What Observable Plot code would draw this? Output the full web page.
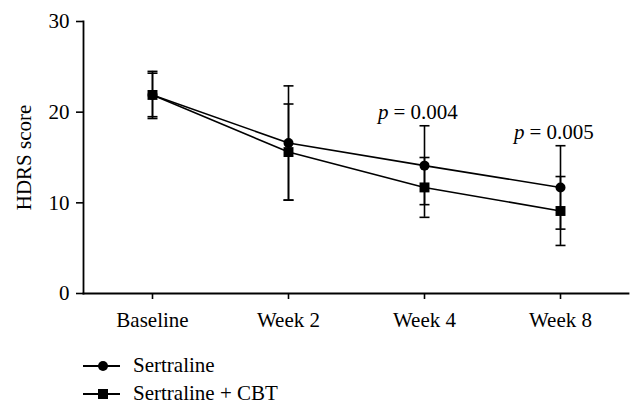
<!DOCTYPE html>
<html>
<head>
<meta charset="utf-8">
<script src="https://cdn.jsdelivr.net/npm/d3@7"></script>
<script src="https://cdn.jsdelivr.net/npm/@observablehq/plot@0.6"></script>
<style>
  html, body { margin: 0; padding: 0; background: #fff; }
  #chart { width: 642px; }
  .legend { font-family: "Liberation Serif", serif; font-size: 21px; color: #000; position: relative; height: 75px; }
  .legend .row { position: absolute; left: 0; display: flex; align-items: center; }
  .legend svg { display: block; }
</style>
</head>
<body>
<div id="chart"></div>
<script>
const weeks = ["Baseline", "Week 2", "Week 4", "Week 8"];
const seriesNames = ["Sertraline", "Sertraline + CBT"];
const sertMean  = [21.9, 16.6, 14.1, 11.7];
const sertUpper = [24.5, 22.9, 18.5, 16.3];
const sertLower = [19.3, 10.3, 9.8, 7.1];
const cbtMean   = [21.9, 15.6, 11.7, 9.1];
const cbtUpper  = [24.3, 20.9, 15.0, 12.9];
const cbtLower  = [19.5, 10.3, 8.4, 5.3];
const yTicks = [0, 10, 20, 30];
const pWeeks = ["Week 4", "Week 8"];
const pValues = ["= 0.004", "= 0.005"];

const rows = [];
weeks.forEach((w, i) => {
  rows.push({week: w, series: seriesNames[0], mean: sertMean[i], lo: sertLower[i], hi: sertUpper[i]});
  rows.push({week: w, series: seriesNames[1], mean: cbtMean[i], lo: cbtLower[i], hi: cbtUpper[i]});
});
const pRows = pWeeks.map((w, i) => ({week: w, y: sertUpper[weeks.indexOf(w)], text: pValues[i]}));

// horizontal cap symbol for error bars
const capSymbol = {draw(ctx) { ctx.moveTo(-5, 0); ctx.lineTo(5, 0); }};

const font = "'Liberation Serif', serif";
const plot = Plot.plot({
  width: 642,
  height: 340,
  marginTop: 21,
  marginBottom: 47,
  marginLeft: 83,
  marginRight: 14,
  style: {fontFamily: font, fontSize: "21px", color: "#000", background: "#fff"},
  x: {type: "point", domain: weeks, padding: 0.5, label: null},
  y: {domain: [0, 30], ticks: yTicks, label: null},
  marks: [
    Plot.axisY({ticks: yTicks, tickSize: 7, tickPadding: 7, strokeWidth: 1.6, fontSize: 21, label: "HDRS score", labelArrow: "none", labelAnchor: "center", labelOffset: 67}),
    Plot.axisX({tickSize: 6, tickPadding: 13, strokeWidth: 1.6, fontSize: 21, label: null}),
    Plot.frame({anchor: "left", strokeWidth: 1.8}),
    Plot.frame({anchor: "bottom", strokeWidth: 1.8}),
    Plot.ruleX(rows, {x: "week", y1: "lo", y2: "hi", stroke: "#000", strokeWidth: 1.6}),
    Plot.dot(rows, {x: "week", y: "lo", symbol: capSymbol, stroke: "#000", fill: "none", strokeWidth: 1.6}),
    Plot.dot(rows, {x: "week", y: "hi", symbol: capSymbol, stroke: "#000", fill: "none", strokeWidth: 1.6}),
    Plot.line(rows, {x: "week", y: "mean", z: "series", stroke: "#000", strokeWidth: 1.6}),
    Plot.dot(rows.filter(d => d.series === seriesNames[0]), {x: "week", y: "mean", symbol: "circle", r: 5, fill: "#000", stroke: null}),
    Plot.dot(rows.filter(d => d.series === seriesNames[1]), {x: "week", y: "mean", symbol: "square", r: 5.6, fill: "#000", stroke: null}),
    Plot.text(pRows, {x: "week", y: "y", text: () => "p", fontStyle: "italic", textAnchor: "end", lineAnchor: "bottom", dx: -36, dy: -7, fontSize: 21, fill: "#000"}),
    Plot.text(pRows, {x: "week", y: "y", text: "text", textAnchor: "start", lineAnchor: "bottom", dx: -31, dy: -7, fontSize: 21, fill: "#000"})
  ]
});
document.getElementById("chart").appendChild(plot);

// legend
const legend = document.createElement("div");
legend.className = "legend";
const ns = "http://www.w3.org/2000/svg";
seriesNames.forEach((name, i) => {
  const row = document.createElement("div");
  row.className = "row";
  row.style.top = (i === 0 ? 13 : 41) + "px";
  row.style.left = "83px";
  const svg = document.createElementNS(ns, "svg");
  svg.setAttribute("width", 50);
  svg.setAttribute("height", 24);
  const line = document.createElementNS(ns, "line");
  line.setAttribute("x1", 0); line.setAttribute("x2", 37);
  line.setAttribute("y1", 12); line.setAttribute("y2", 12);
  line.setAttribute("stroke", "#000"); line.setAttribute("stroke-width", 1.8);
  svg.appendChild(line);
  if (i === 0) {
    const c = document.createElementNS(ns, "circle");
    c.setAttribute("cx", 20); c.setAttribute("cy", 12); c.setAttribute("r", 5);
    c.setAttribute("fill", "#000");
    svg.appendChild(c);
  } else {
    const r = document.createElementNS(ns, "rect");
    r.setAttribute("x", 15); r.setAttribute("y", 7); r.setAttribute("width", 10); r.setAttribute("height", 10);
    r.setAttribute("fill", "#000");
    svg.appendChild(r);
  }
  row.appendChild(svg);
  const label = document.createElement("span");
  label.textContent = name;
  row.appendChild(label);
  legend.appendChild(row);
});
document.getElementById("chart").appendChild(legend);
</script>
</body>
</html>
